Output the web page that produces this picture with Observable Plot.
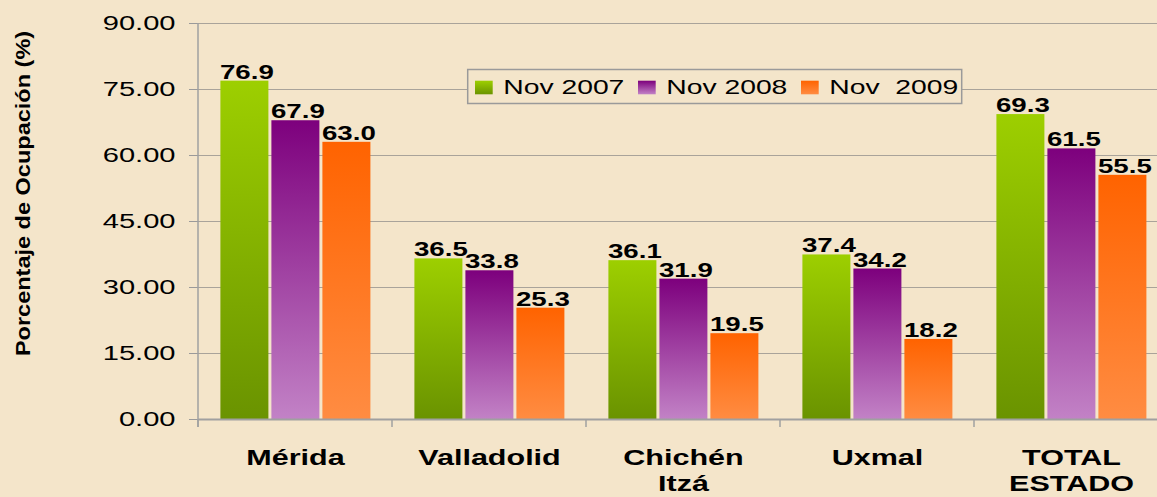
<!DOCTYPE html>
<html><head><meta charset="utf-8">
<script src="https://cdn.jsdelivr.net/npm/d3@7"></script>
<script src="https://cdn.jsdelivr.net/npm/@observablehq/plot@0.6"></script>
<style>
html,body{margin:0;padding:0;background:#f4e5ca;overflow:hidden;}
#chart svg{display:block;}
</style></head><body><div id="chart"></div>
<script>
// ---- data ----
const categories = ["Mérida", "Valladolid", "Chichén Itzá", "Uxmal", "TOTAL ESTADO"];
const categoryLabels = ["Mérida", "Valladolid", "Chichén\nItzá", "Uxmal", "TOTAL\nESTADO"];
const series = ["Nov 2007", "Nov 2008", "Nov  2009"];
const nov2007 = [76.9, 36.5, 36.1, 37.4, 69.3];
const nov2008 = [67.9, 33.8, 31.9, 34.2, 61.5];
const nov2009 = [63.0, 25.3, 19.5, 18.2, 55.5];
const yTicks = [0, 15, 30, 45, 60, 75, 90];
const yLabel = "Porcentaje de Ocupación (%)";

const seriesValues = [nov2007, nov2008, nov2009];
const rows = categories.flatMap((c, i) => series.map((s, j) => ({city: c, series: s, value: seriesValues[j][i]})));

const W = 1157, H = 497;
const BG = "#f4e5ca";
const FONT = "'Liberation Sans', Arial, Helvetica, sans-serif";
const gradIds = ["gGreen", "gPurple", "gOrange"];
const gradStops = [["#9dcf00", "#6a9300"], ["#7d007d", "#c282c6"], ["#ff6300", "#ff8c42"]];

const chart = Plot.plot({
  width: W, height: H,
  marginLeft: 195.6, marginRight: -13.6, marginTop: 23, marginBottom: 78,
  style: {background: BG, fontFamily: FONT, color: "#000"},
  fx: {domain: categories, padding: 0, axis: null, label: null},
  x: {domain: series, paddingInner: 0.058, paddingOuter: 0.40, axis: null, label: null},
  y: {domain: [0, 90], axis: null, label: null},
  color: {domain: series, range: gradIds.map(id => `url(#${id})`)},
  marks: [
    Plot.gridY(yTicks, {stroke: "#a9a39a", strokeOpacity: 1, strokeWidth: 1}),
    Plot.axisY(yTicks, {tickSize: 9, tickPadding: 14, tickFormat: d => d.toFixed(2), fontSize: 20.5, stroke: "#9a9a9a", fill: "#000", label: null}),
    Plot.barY(rows, {fx: "city", x: "series", y: "value", fill: "series"}),
    Plot.ruleY([0], {stroke: "#a0a0a0", strokeWidth: 2}),
    Plot.text(rows, {fx: "city", x: "series", y: "value", text: d => d.value.toFixed(1), dy: -2.5, dx: 2, lineAnchor: "bottom", fontSize: 19.5, fontWeight: "bold", fill: "#000"}),
    Plot.text(categories, {fx: d => d, text: (d, i) => categoryLabels[i], frameAnchor: "bottom", lineAnchor: "top", dy: 26.9, lineHeight: 1.22, fontSize: 21.5, fontWeight: "bold", fill: "#000"})
  ]
});

const svg = d3.select(chart);

// horizontally stretched glyphs, as in the reference
function stretch(t, s) {
  let tr = t.getAttribute("transform");
  if (!tr) {
    const x = +t.getAttribute("x") || 0, y = +t.getAttribute("y") || 0;
    t.removeAttribute("x"); t.removeAttribute("y");
    tr = `translate(${x},${y})`;
  }
  t.setAttribute("transform", tr + ` scale(${s},1)`);
}
svg.selectAll("text").each(function() { stretch(this, 1.42); });

// gradients
const defs = svg.insert("defs", ":first-child");
gradIds.forEach((id, i) => {
  const g = defs.append("linearGradient").attr("id", id).attr("x1", 0).attr("y1", 0).attr("x2", 0).attr("y2", 1);
  g.append("stop").attr("offset", 0).attr("stop-color", gradStops[i][0]);
  g.append("stop").attr("offset", 1).attr("stop-color", gradStops[i][1]);
});

// axis lines and category ticks from the scales
const fxS = chart.scale("fx"), yS = chart.scale("y");
const y0 = yS.apply(0), yTop = yS.apply(90);
const xLeft = fxS.apply(categories[0]);
const extra = svg.append("g");
extra.append("line").attr("x1", xLeft).attr("x2", xLeft).attr("y1", yTop).attr("y2", y0 + 8).attr("stroke", "#a0a0a0").attr("stroke-width", 1.5);
categories.forEach(c => {
  const x = fxS.apply(c);
  extra.append("line").attr("x1", x).attr("x2", x).attr("y1", y0).attr("y2", y0 + 8).attr("stroke", "#a0a0a0").attr("stroke-width", 1.5);
});

// legend
const lg = svg.append("g").attr("font-family", FONT).attr("text-anchor", "start");
lg.append("rect").attr("x", 467.7).attr("y", 69.5).attr("width", 494).attr("height", 34).attr("fill", BG).attr("stroke", "#9a9a9a").attr("stroke-width", 1.5);
series.forEach((s, i) => {
  const x0 = 475 + i * 163;
  lg.append("rect").attr("x", x0).attr("y", 80.7).attr("width", 17.7).attr("height", 13.6).attr("fill", `url(#${gradIds[i]})`);
  lg.append("text").attr("transform", `translate(${x0 + 28.3},94.3) scale(1.38,1)`)
    .attr("text-anchor", "start").attr("font-size", 20.5).attr("fill", "#000").style("white-space", "pre").text(s);
});

// y axis title
svg.append("text").attr("transform", "translate(30,193.5) rotate(-90) scale(1.12,1)")
  .attr("text-anchor", "middle").attr("font-family", FONT).attr("font-weight", "bold")
  .attr("font-size", 21).attr("fill", "#000").text(yLabel);

document.getElementById("chart").appendChild(chart);
</script>
</body></html>
